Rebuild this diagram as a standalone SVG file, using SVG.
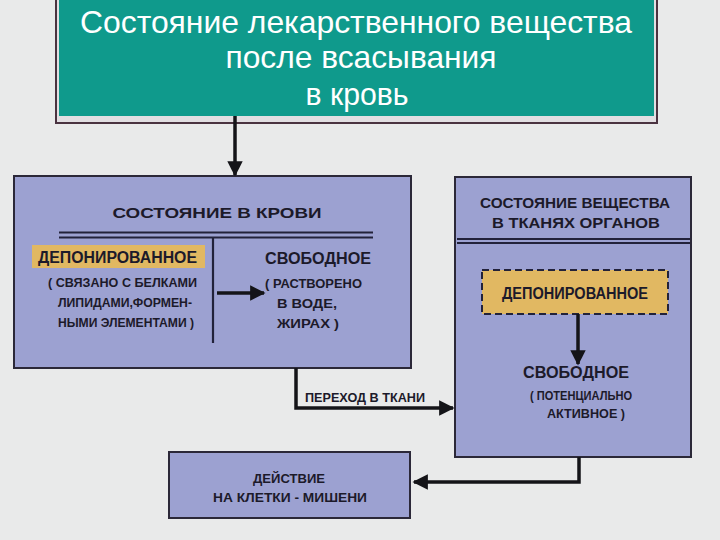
<svg xmlns="http://www.w3.org/2000/svg" width="720" height="540" viewBox="0 0 720 540">
<defs>
<style>
.bg{fill:#e9eaea}
.box{fill:#9ca1d1;stroke:#2b2838;stroke-width:2}
.t{font-family:"Liberation Sans",Arial,sans-serif;font-weight:bold;fill:#1c1a2a}
.h{font-size:15px}
.m{font-size:16px}
.s{font-size:12px}
.title{font-family:"Liberation Sans",Arial,sans-serif;font-size:31.5px;fill:#ffffff}
.ln{stroke:#141418;stroke-width:3.5;fill:none}
.dl{stroke:#22223a;stroke-width:2.2}
</style>
<marker id="ah" viewBox="0 0 10 10" refX="9" refY="5" markerWidth="4.4" markerHeight="4.4" orient="auto" markerUnits="strokeWidth">
<path d="M0,0 L10,5 L0,10 Z" fill="#141418"/>
</marker>
</defs>
<rect class="bg" x="0" y="0" width="720" height="540"/>

<g id="header">
<rect x="56" y="-2" width="601" height="125" fill="#e2dfe2" stroke="#4a3340" stroke-width="2"/>
<rect x="59" y="-2" width="595" height="118" fill="#0f9a8c"/>
<text class="title" x="356" y="33" text-anchor="middle" textLength="552" lengthAdjust="spacingAndGlyphs">Состояние лекарственного вещества</text>
<text class="title" x="361" y="68" text-anchor="middle" textLength="271" lengthAdjust="spacingAndGlyphs">после всасывания</text>
<text class="title" x="357" y="105" text-anchor="middle" textLength="103" lengthAdjust="spacingAndGlyphs">в кровь</text>
</g>

<g id="blood">
<rect class="box" x="14" y="176" width="397" height="192"/>
<text class="t h" x="217" y="218" text-anchor="middle" textLength="209" lengthAdjust="spacingAndGlyphs">СОСТОЯНИЕ В КРОВИ</text>
<line class="dl" x1="59" y1="232.5" x2="373" y2="232.5"/>
<line class="dl" x1="59" y1="237.5" x2="373" y2="237.5"/>
<line class="dl" x1="213" y1="237" x2="213" y2="343"/>
<rect x="32" y="245" width="173" height="23" fill="#e1b862"/>
<text class="t m" x="38" y="263" textLength="159" lengthAdjust="spacingAndGlyphs">ДЕПОНИРОВАННОЕ</text>
<text class="t s" x="48" y="287" textLength="149" lengthAdjust="spacingAndGlyphs">( СВЯЗАНО С БЕЛКАМИ</text>
<text class="t s" x="58" y="307" textLength="134" lengthAdjust="spacingAndGlyphs">ЛИПИДАМИ,ФОРМЕН-</text>
<text class="t s" x="58" y="327" textLength="136" lengthAdjust="spacingAndGlyphs">НЫМИ ЭЛЕМЕНТАМИ )</text>
<line class="ln" x1="217" y1="293" x2="264" y2="293" marker-end="url(#ah)"/>
<text class="t m" x="265" y="264" textLength="106" lengthAdjust="spacingAndGlyphs">СВОБОДНОЕ</text>
<text class="t s" x="265" y="288" textLength="97" lengthAdjust="spacingAndGlyphs">( РАСТВОРЕНО</text>
<text class="t s" x="277" y="308" textLength="60" lengthAdjust="spacingAndGlyphs">В ВОДЕ,</text>
<text class="t s" x="277" y="328" textLength="62" lengthAdjust="spacingAndGlyphs">ЖИРАХ )</text>
</g>

<g id="tissue">
<rect class="box" x="455" y="177" width="236" height="280"/>
<text class="t h" x="575" y="208" text-anchor="middle" textLength="190" lengthAdjust="spacingAndGlyphs">СОСТОЯНИЕ ВЕЩЕСТВА</text>
<text class="t h" x="576" y="228" text-anchor="middle" textLength="168" lengthAdjust="spacingAndGlyphs">В ТКАНЯХ ОРГАНОВ</text>
<line class="dl" x1="457" y1="239" x2="690" y2="239"/>
<line class="dl" x1="457" y1="243" x2="690" y2="243"/>
<rect x="482" y="270" width="186" height="44" fill="#e1b862" stroke="#22223a" stroke-width="2" stroke-dasharray="7,4"/>
<text class="t m" x="575" y="299" text-anchor="middle" textLength="146" lengthAdjust="spacingAndGlyphs">ДЕПОНИРОВАННОЕ</text>
<line class="ln" x1="578" y1="314" x2="578" y2="364" marker-end="url(#ah)"/>
<text class="t m" x="576" y="378" text-anchor="middle" textLength="106" lengthAdjust="spacingAndGlyphs">СВОБОДНОЕ</text>
<text class="t s" x="530" y="400" textLength="102" lengthAdjust="spacingAndGlyphs">( ПОТЕНЦИАЛЬНО</text>
<text class="t s" x="547" y="418" textLength="78" lengthAdjust="spacingAndGlyphs">АКТИВНОЕ )</text>
</g>

<g id="action">
<rect class="box" x="169" y="452" width="241" height="66"/>
<text class="t s" x="289" y="483" text-anchor="middle" textLength="72" lengthAdjust="spacingAndGlyphs">ДЕЙСТВИЕ</text>
<text class="t s" x="290" y="502" text-anchor="middle" textLength="154" lengthAdjust="spacingAndGlyphs">НА КЛЕТКИ - МИШЕНИ</text>
</g>

<g id="connectors">
<line class="ln" x1="235" y1="116" x2="235" y2="175" marker-end="url(#ah)"/>
<polyline class="ln" points="296,368 296,408 453,408" marker-end="url(#ah)"/>
<text class="t s" x="305" y="402" textLength="120" lengthAdjust="spacingAndGlyphs">ПЕРЕХОД В ТКАНИ</text>
<polyline class="ln" points="579,457 579,482 414,482" marker-end="url(#ah)"/>
</g>
</svg>
